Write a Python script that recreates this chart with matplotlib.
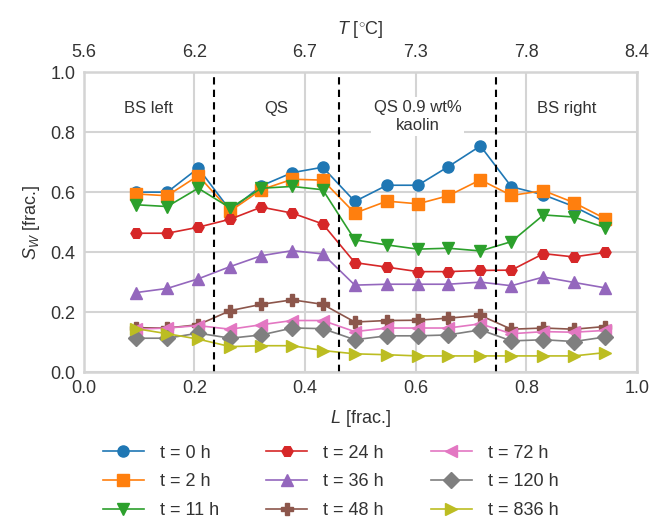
import numpy as np
import matplotlib
matplotlib.use("Agg")
import matplotlib.pyplot as plt

# ------------------------------------------------------------
# Data
# ------------------------------------------------------------
L = [0.094, 0.151, 0.207, 0.265, 0.321, 0.377, 0.432, 0.490,
     0.548, 0.604, 0.659, 0.717, 0.773, 0.831, 0.886, 0.942]

labels = ["t = 0 h", "t = 2 h", "t = 11 h", "t = 24 h", "t = 36 h",
          "t = 48 h", "t = 72 h", "t = 120 h", "t = 836 h"]

sw_0h = [0.600, 0.600, 0.680, 0.539, 0.621, 0.665, 0.683, 0.569,
         0.623, 0.623, 0.685, 0.754, 0.618, 0.591, 0.552, 0.500]
sw_2h = [0.594, 0.588, 0.655, 0.537, 0.608, 0.643, 0.640, 0.530,
         0.570, 0.561, 0.588, 0.641, 0.589, 0.605, 0.565, 0.512]
sw_11h = [0.558, 0.552, 0.613, 0.547, 0.613, 0.619, 0.608, 0.441,
          0.424, 0.410, 0.413, 0.404, 0.435, 0.524, 0.517, 0.482]
sw_24h = [0.463, 0.463, 0.483, 0.510, 0.550, 0.530, 0.494, 0.365,
          0.350, 0.335, 0.335, 0.339, 0.340, 0.395, 0.384, 0.399]
sw_36h = [0.265, 0.279, 0.311, 0.352, 0.388, 0.405, 0.394, 0.290,
          0.293, 0.293, 0.293, 0.300, 0.288, 0.317, 0.299, 0.281]
sw_48h = [0.148, 0.147, 0.158, 0.205, 0.226, 0.241, 0.226, 0.167,
          0.172, 0.173, 0.180, 0.189, 0.143, 0.147, 0.143, 0.152]
sw_72h = [0.143, 0.147, 0.155, 0.143, 0.158, 0.172, 0.172, 0.135,
          0.147, 0.147, 0.147, 0.161, 0.128, 0.135, 0.133, 0.139]
sw_120h = [0.113, 0.113, 0.130, 0.113, 0.124, 0.147, 0.145, 0.108,
           0.121, 0.121, 0.124, 0.141, 0.104, 0.108, 0.102, 0.117]
sw_836h = [0.145, 0.128, 0.110, 0.085, 0.088, 0.088, 0.072, 0.061,
           0.058, 0.054, 0.054, 0.054, 0.054, 0.054, 0.054, 0.065]

series = [sw_0h, sw_2h, sw_11h, sw_24h, sw_36h, sw_48h, sw_72h, sw_120h, sw_836h]
markers = ["o", "s", "v", "H", "^", "P", "<", "D", ">"]
colors = ["tab:blue", "tab:orange", "tab:green", "tab:red", "tab:purple",
          "tab:brown", "tab:pink", "tab:gray", "tab:olive"]

# section boundaries and names
boundaries = [0.236, 0.461, 0.746]
sections = ["BS left", "QS", "QS 0.9 wt%\nkaolin", "BS right"]

# top axis: temperature labels
top_ticks = [0.0, 0.2, 0.4, 0.6, 0.8, 1.0]
top_labels = ["5.6", "6.2", "6.7", "7.3", "7.8", "8.4"]

# ------------------------------------------------------------
# Style
# ------------------------------------------------------------
plt.rcParams["font.family"] = ["Liberation Sans", "DejaVu Sans"]
plt.rcParams["mathtext.fontset"] = "custom"
plt.rcParams["mathtext.it"] = "Liberation Sans:italic"
plt.rcParams["mathtext.rm"] = "Liberation Sans"
plt.rcParams["text.color"] = "#333333"
plt.rcParams["axes.labelcolor"] = "#333333"
plt.rcParams["xtick.color"] = "#333333"
plt.rcParams["ytick.color"] = "#333333"

fig = plt.figure(figsize=(6.54, 5.19), dpi=100)
ax = fig.add_axes([0.128, 0.283, 0.846, 0.578])

for y, lab, m, c in zip(series, labels, markers, colors):
    ax.plot(L, y, marker=m, color=c, label=lab, lw=1.2, markersize=8)

for b in boundaries:
    ax.axvline(b, color="black", ls="--", lw=1.5, dashes=(3.5, 2.5))

edges = [0.0] + boundaries + [1.0]
for i, name in enumerate(sections):
    xc = (edges[i] + edges[i + 1]) / 2
    yc = 0.88 if "\n" not in name else 0.853
    ax.text(xc, yc, name, ha="center", va="center", fontsize=12,
            color="#333333", linespacing=1.25,
            bbox=dict(facecolor="white", edgecolor="none", pad=2))

ax.set_xlim(0, 1)
ax.set_ylim(0, 1)
ax.set_xticks([0.0, 0.2, 0.4, 0.6, 0.8, 1.0])
ax.set_yticks([0.0, 0.2, 0.4, 0.6, 0.8, 1.0])
ax.tick_params(labelsize=13, length=0, pad=6)
ax.grid(True, color="#d4d4d4", lw=1.5)
ax.set_axisbelow(True)
for s in ax.spines.values():
    s.set_color("#d4d4d4")
    s.set_linewidth(1.8)

ax.set_xlabel("$L$ [frac.]", fontsize=13, labelpad=7.5)
ax.set_ylabel("$S_W$ [frac.]", fontsize=13, labelpad=6)

ax_top = ax.twiny()
ax_top.set_xlim(0, 1)
ax_top.set_xticks(top_ticks)
ax_top.set_xticklabels(top_labels)
ax_top.tick_params(labelsize=13, length=0, pad=8)
ax_top.set_xlabel("$T$ [$^{\\circ}$C]", fontsize=13, labelpad=7)
for s in ax_top.spines.values():
    s.set_visible(False)

ax.legend(loc="upper left", bbox_to_anchor=(0.005, -0.188), ncol=3,
          frameon=False, fontsize=13, handlelength=2.27,
          columnspacing=2.6, labelspacing=0.64, handletextpad=0.9,
          borderaxespad=0.5, borderpad=0.4)

fig.savefig("out.png", dpi=100)
